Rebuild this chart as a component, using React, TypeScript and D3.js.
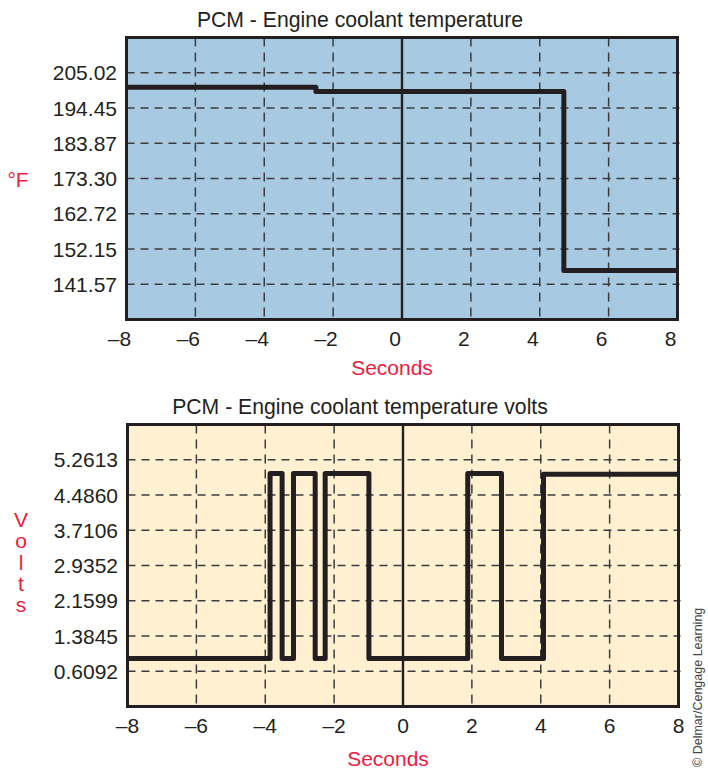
import React from "react";
import * as d3 from "d3";

// ---------- DATA ----------
const xTicks = [-8, -6, -4, -2, 0, 2, 4, 6, 8];
const xTickLabels = ["\u20138", "\u20136", "\u20134", "\u20132", "0", "2", "4", "6", "8"];

const tempTickValues = [141.57, 152.15, 162.72, 173.3, 183.87, 194.45, 205.02];
const tempTickLabels = ["141.57", "152.15", "162.72", "173.30", "183.87", "194.45", "205.02"];
const tempTimes = [-8, -2.5, 4.7, 8];
const tempValues = [200.7, 199.4, 145.7, 145.7];

const voltTickValues = [0.6092, 1.3845, 2.1599, 2.9352, 3.7106, 4.486, 5.2613];
const voltTickLabels = ["0.6092", "1.3845", "2.1599", "2.9352", "3.7106", "4.4860", "5.2613"];
const voltTimes = [-8, -3.86, -3.51, -3.18, -2.55, -2.26, -0.99, 1.88, 2.86, 4.08, 8];
const voltValues = [0.89, 4.96, 0.89, 4.96, 0.89, 4.96, 0.89, 4.96, 0.89, 4.94, 4.94];

const volTitle = "PCM - Engine coolant temperature volts";
const tempTitle = "PCM - Engine coolant temperature";
const voltsLetters = ["V", "o", "l", "t", "s"];

// ---------- STYLE ----------
const FONT = "'Liberation Sans', Arial, Helvetica, sans-serif";
const INK = "#231f20";
const RED = "#ec1c3c";
const GRID = "#3a3d40";

type PanelProps = {
  x0: number; x1: number; y0: number; y1: number;
  tickValues: number[]; tickLabels: string[];
  times: number[]; values: number[];
  bg: string; title: string; tickDx: number;
};

function Panel(p: PanelProps) {
  const step = p.tickValues[1] - p.tickValues[0];
  const yMin = p.tickValues[0] - step;
  const yMax = p.tickValues[p.tickValues.length - 1] + step;
  const x = d3.scaleLinear().domain([-8, 8]).range([p.x0, p.x1]);
  const y = d3.scaleLinear().domain([yMin, yMax]).range([p.y1, p.y0]);
  const pts: [number, number][] = p.times.map((t, i) => [t, p.values[i]]);
  const line = d3
    .line<[number, number]>()
    .x((d) => x(d[0]))
    .y((d) => y(d[1]))
    .curve(d3.curveStepAfter);
  const cx = 360;
  return (
    <g>
      <text x={cx} y={p.y0 - 10.5} textAnchor="middle" fontSize={21.2} fill={INK} fontFamily={FONT}>
        {p.title}
      </text>
      <rect x={p.x0} y={p.y0} width={p.x1 - p.x0} height={p.y1 - p.y0} fill={p.bg} />
      {p.tickValues.map((v, i) => (
        <line key={"h" + i} x1={p.x0} x2={p.x1 + 2} y1={y(v)} y2={y(v)} stroke={GRID}
          strokeWidth={1.5} strokeDasharray="8 6" />
      ))}
      {xTicks.filter((t) => t !== -8 && t !== 8 && t !== 0).map((t) => (
        <line key={"v" + t} x1={x(t)} x2={x(t)} y1={p.y0} y2={p.y1} stroke={GRID}
          strokeWidth={1.5} strokeDasharray="9 6" />
      ))}
      <line x1={x(0)} x2={x(0)} y1={p.y0} y2={p.y1} stroke={INK} strokeWidth={2.4} />
      <path d={line(pts) || ""} fill="none" stroke={INK} strokeWidth={5} strokeLinejoin="round" />
      <rect x={p.x0} y={p.y0} width={p.x1 - p.x0} height={p.y1 - p.y0} fill="none" stroke={INK} strokeWidth={3} />
      {p.tickValues.map((v, i) => (
        <text key={"yl" + i} x={p.x0 - 9.5} y={y(v)} dy="0.36em" textAnchor="end" fontSize={21}
          fill={INK} fontFamily={FONT}>
          {p.tickLabels[i]}
        </text>
      ))}
      {xTicks.map((t, i) => (
        <text key={"xl" + t} x={x(t) + p.tickDx} y={p.y1 + 26.5} textAnchor="middle" fontSize={21}
          fill={INK} fontFamily={FONT}>
          {xTickLabels[i]}
        </text>
      ))}
    </g>
  );
}

export default function App() {
  return (
    <div style={{ position: "absolute", left: 0, top: 0 }}>
      <svg width={708} height={771} viewBox="0 0 708 771" style={{ display: "block", background: "#fff" }}>
        <Panel x0={126.5} x1={677.5} y0={37.5} y1={319.5}
          tickValues={tempTickValues} tickLabels={tempTickLabels}
          times={tempTimes} values={tempValues} bg="#a8c9e2" title={tempTitle} tickDx={-7} />
        <text x={392} y={375} textAnchor="middle" fontSize={21} fill={RED} fontFamily={FONT}>Seconds</text>
        <text x={18} y={187} textAnchor="middle" fontSize={21} fill={RED} fontFamily={FONT}>°F</text>

        <Panel x0={127.5} x1={678.5} y0={424.5} y1={706.5}
          tickValues={voltTickValues} tickLabels={voltTickLabels}
          times={voltTimes} values={voltValues} bg="#fef0d0" title={volTitle} tickDx={0} />
        <text x={388} y={766} textAnchor="middle" fontSize={21} fill={RED} fontFamily={FONT}>Seconds</text>
        {voltsLetters.map((c, i) => (
          <text key={c + i} x={21} y={527 + i * 21.25} textAnchor="middle" fontSize={21} fill={RED} fontFamily={FONT}>
            {c}
          </text>
        ))}
        <text transform="translate(702,767) rotate(-90)" fontSize={12.5} fill="#444" fontFamily={FONT}>
          © Delmar/Cengage Learning
        </text>
      </svg>
    </div>
  );
}
